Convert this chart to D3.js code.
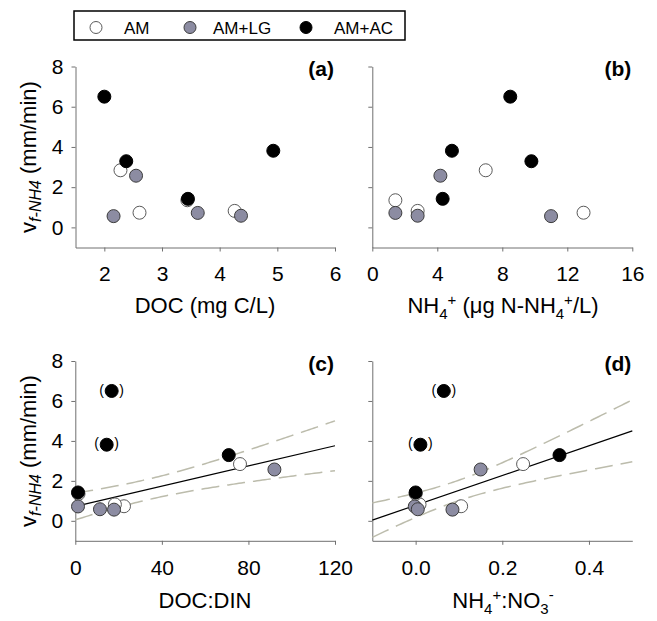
<!DOCTYPE html>
<html>
<head>
<meta charset="utf-8">
<script src="https://cdn.jsdelivr.net/npm/d3@7"></script>
<style>
  body { margin: 0; background: #fff; }
  svg { display: block; }
  text { font-family: "Liberation Sans", Arial, Helvetica, sans-serif; fill: #000; }
</style>
</head>
<body>
<svg id="chart" width="657" height="621"></svg>
<script>
// ---- Data ---------------------------------------------------------------
const seriesNames = ["AM", "AM+LG", "AM+AC"];

// uptake velocity v_f-NH4 (mm/min), one value per site
const vfAM = [2.84, 0.73, 0.82, 1.35];
const vfLG = [2.57, 0.56, 0.72, 0.58];
const vfAC = [6.50, 3.29, 1.42, 3.81];

// DOC (mg C/L)
const docAM = [2.28, 2.61, 4.26, 3.44];
const docLG = [2.55, 2.16, 3.62, 4.37];
const docAC = [2.00, 2.38, 3.45, 4.93];

// NH4+ (ug N-NH4+/L)
const nh4AM = [6.98, 13.0, 2.79, 1.42];
const nh4LG = [4.19, 11.0, 1.42, 2.79];
const nh4AC = [8.49, 9.79, 4.33, 4.90];

// DOC:DIN
const docdinAM = [76.1, 22.5, 18.3, 1.5];
const docdinLG = [92.0, 17.9, 1.25, 11.4];
const docdinAC = [16.8, 70.9, 1.25, 14.5];

// NH4+:NO3-
const ratioAM = [0.248, 0.105, 0.009, 0.0];
const ratioLG = [0.150, 0.085, -0.002, 0.005];
const ratioAC = [0.065, 0.332, 0.0, 0.011];

// sites left out of the regressions (shown in parentheses)
const excludedAC = [true, false, false, true];

// tick values
const yTicks = [0, 2, 4, 6, 8];
const xTicksA = [2, 3, 4, 5, 6];
const xTicksB = [0, 4, 8, 12, 16];
const xTicksC = [0, 40, 80, 120];
const xTicksD = [0.0, 0.2, 0.4];

// linear fits: [intercept, slope]; 95% band: [xMean, a, b] so that
// half-width(x) = sqrt(a + b * (x - xMean)^2)
const fitC = [0.72, 0.0253];
const bandC = [33, 0.264, 0.0001707];
const fitD = [0.78, 7.45];
const bandD = [0.093, 0.26, 12.9];

// ---- Styles -------------------------------------------------------------
const fills = { "AM": "#ffffff", "AM+LG": "#8c8ca2", "AM+AC": "#000000" };
const strokes = { "AM": "#5a5a5a", "AM+LG": "#3c3c3c", "AM+AC": "#000000" };
const R = 6.5;

const svg = d3.select("#chart");

// ---- Legend -------------------------------------------------------------
const legend = svg.append("g");
legend.append("rect")
  .attr("x", 74).attr("y", 11).attr("width", 331).attr("height", 29)
  .attr("fill", "#fff").attr("stroke", "#000").attr("stroke-width", 1.5);
const legX = [96, 190, 306];
const legTx = [124, 213, 334];
seriesNames.forEach((s, i) => {
  legend.append("circle").attr("cx", legX[i]).attr("cy", 27.5).attr("r", 6)
    .attr("fill", fills[s]).attr("stroke", strokes[s]).attr("stroke-width", 1);
  legend.append("text").attr("x", legTx[i]).attr("y", 33.5)
    .attr("font-size", 17).text(s);
});

// ---- Panels -------------------------------------------------------------
const panels = [
  { label: "(a)", xr: [75.5, 335], yr: [247.5, 66.5], xd: [1.5, 6], ticks: xTicksA,
    fmt: d3.format("d"), showY: true,
    xs: [docAM, docLG, docAC] },
  { label: "(b)", xr: [372.3, 632.3], yr: [247.5, 66.5], xd: [0, 16], ticks: xTicksB,
    fmt: d3.format("d"), showY: false,
    xs: [nh4AM, nh4LG, nh4AC] },
  { label: "(c)", xr: [75.3, 335], yr: [540.8, 361], xd: [0, 120], ticks: xTicksC,
    fmt: d3.format("d"), showY: true,
    xs: [docdinAM, docdinLG, docdinAC], fit: fitC, band: bandC, paren: true },
  { label: "(d)", xr: [372.3, 632.3], yr: [540.8, 361], xd: [-0.1, 0.5], ticks: xTicksD,
    fmt: d3.format(".1f"), showY: false,
    xs: [ratioAM, ratioLG, ratioAC], fit: fitD, band: bandD, paren: true }
];
const vfs = [vfAM, vfLG, vfAC];

panels.forEach(p => {
  const g = svg.append("g");
  const x = d3.scaleLinear().domain(p.xd).range(p.xr);
  const y = d3.scaleLinear().domain([-1, 8]).range(p.yr);

  // axes
  const yAxis = d3.axisLeft(y).tickValues(yTicks).tickSize(4).tickSizeOuter(0).tickPadding(8);
  if (!p.showY) yAxis.tickFormat("");
  const ya = g.append("g").attr("transform", `translate(${p.xr[0]},0)`).call(yAxis);
  const xa = g.append("g").attr("transform", `translate(0,${p.yr[0]})`)
    .call(d3.axisBottom(x).tickValues(p.ticks).tickFormat(p.fmt)
      .tickSize(4).tickSizeOuter(0).tickPadding(15));
  [ya, xa].forEach(a => {
    a.select(".domain").attr("stroke", "#707070").attr("stroke-width", 1);
    a.selectAll(".tick line").attr("stroke", "#707070");
    a.selectAll(".tick text").attr("font-size", 21)
      .style("font-family", '"Liberation Sans", Arial, sans-serif').attr("fill", "#000");
  });

  // regression line with confidence band
  if (p.fit) {
    const [b0, b1] = p.fit;
    const [xm, a, b] = p.band;
    const xsLine = d3.range(0, 101).map(i => p.xd[0] + (p.xd[1] - p.xd[0]) * i / 100);
    const hw = v => Math.sqrt(a + b * (v - xm) * (v - xm));
    const line = d3.line().x(d => x(d[0])).y(d => y(d[1]));
    const dash = { stroke: "#bcbcac", "stroke-width": 1.5, "stroke-dasharray": "18,8", fill: "none" };
    [1, -1].forEach(sgn => {
      const path = g.append("path")
        .attr("d", line(xsLine.map(v => [v, b0 + b1 * v + sgn * hw(v)])));
      Object.entries(dash).forEach(([k, v]) => path.attr(k, v));
    });
    g.append("path")
      .attr("d", line([[p.xd[0], b0 + b1 * p.xd[0]], [p.xd[1], b0 + b1 * p.xd[1]]]))
      .attr("stroke", "#000").attr("stroke-width", 1.2).attr("fill", "none");
  }

  // points, one series at a time
  seriesNames.forEach((s, si) => {
    const pts = p.xs[si].map((xv, i) => ({ xv, yv: vfs[si][i], i }));
    g.selectAll(null).data(pts).enter().append("circle")
      .attr("cx", d => x(d.xv)).attr("cy", d => y(d.yv)).attr("r", R)
      .attr("fill", fills[s]).attr("stroke", strokes[s]).attr("stroke-width", 1);
    if (p.paren && s === "AM+AC") {
      const ex = pts.filter(d => excludedAC[d.i]);
      [["(", -10], [")", 10]].forEach(([ch, off]) => {
        g.selectAll(null).data(ex).enter().append("text")
          .attr("x", d => x(d.xv) + off).attr("y", d => y(d.yv)).attr("dy", "0.27em")
          .attr("text-anchor", "middle").attr("font-size", 14).text(ch);
      });
    }
  });

  // panel letter
  g.append("text").attr("x", p.xr[1] - 1).attr("y", p.yr[1] + 9.5)
    .attr("text-anchor", "end").attr("font-size", 21).attr("font-weight", "bold")
    .text(p.label);
});

// ---- Axis titles --------------------------------------------------------
function yTitle(cx, cy) {
  const t = svg.append("text").attr("transform", `translate(${cx},${cy}) rotate(-90)`)
    .attr("text-anchor", "middle").attr("font-size", 22);
  t.append("tspan").text("v");
  t.append("tspan").attr("font-size", 16).attr("font-style", "italic").attr("dy", 5).text("f-NH4");
  t.append("tspan").attr("dy", -5).text(" (mm/min)");
}
yTitle(36, 157);
yTitle(36, 451);

function xTitle(cx, by, parts) {
  const t = svg.append("text").attr("x", cx).attr("y", by)
    .attr("text-anchor", "middle").attr("font-size", 22);
  let shift = 0;
  parts.forEach(([str, kind]) => {
    const target = kind === "sub" ? 6 : kind === "sup" ? -8 : 0;
    const ts = t.append("tspan").attr("dy", target - shift).text(str);
    if (kind) ts.attr("font-size", 15);
    shift = target;
  });
}
xTitle(205, 313, [["DOC (mg C/L)"]]);
xTitle(503, 313, [["NH"], ["4", "sub"], ["+", "sup"], [" (μg N-NH"], ["4", "sub"], ["+", "sup"], ["/L)"]]);
xTitle(205, 608, [["DOC:DIN"]]);
xTitle(503, 608, [["NH"], ["4", "sub"], ["+", "sup"], [":NO"], ["3", "sub"], ["-", "sup"]]);
</script>
</body>
</html>
